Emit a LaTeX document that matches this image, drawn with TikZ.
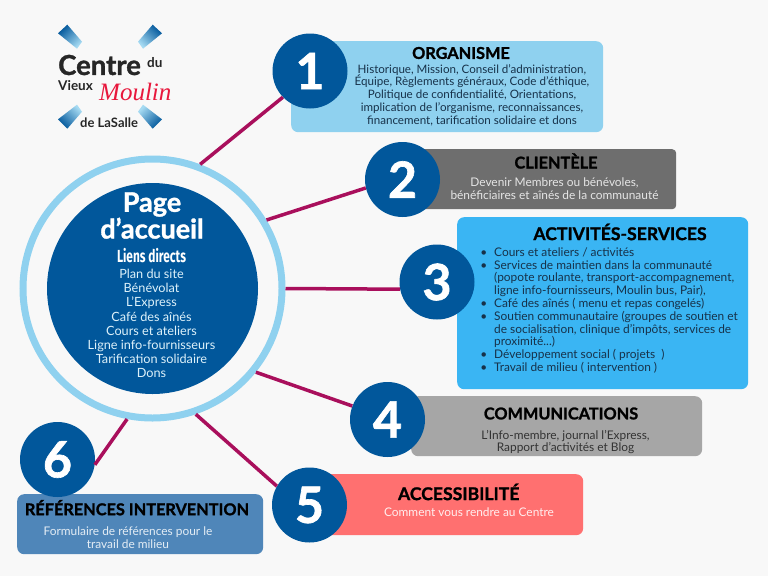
\documentclass[tikz,border=0pt]{standalone}
\usepackage{fontspec}
\setmainfont{Lato}
\newfontfamily\grasfont[BoldFeatures={FakeBold=1.3}]{Lato}
\newfontfamily\condfont[FakeStretch=0.68]{Fira Sans}
\newfontfamily\moulinfont{Liberation Serif}
\usetikzlibrary{positioning}
\definecolor{fond}{HTML}{F8F8F8}
\definecolor{bleufonce}{HTML}{01579B}
\definecolor{bleuciel}{HTML}{8FD1EF}
\definecolor{bleuvif}{HTML}{3AB5F3}
\definecolor{bleugris}{HTML}{4F86B9}
\definecolor{grisfonce}{HTML}{6E6E6E}
\definecolor{grisclair}{HTML}{A6A6A6}
\definecolor{corail}{HTML}{FF7070}
\definecolor{cramoisi}{HTML}{A90F5C}
\definecolor{encre}{HTML}{17324A}
\definecolor{rouge}{HTML}{E8173C}
\tikzstyle{box} = [rectangle, rounded corners=7pt, inner sep=0pt, anchor=north west]
\tikzstyle{numero} = [circle, fill=bleufonce, minimum size=75pt, inner sep=0pt, text=white, font=\fontsize{50}{50}\selectfont\grasfont\bfseries]
\tikzstyle{titre} = [inner sep=0pt, text=black, font=\fontsize{16.3}{18}\selectfont\grasfont\bfseries]
\tikzstyle{grandtitre} = [titre, font=\fontsize{17.6}{18}\selectfont\grasfont\bfseries]
\tikzstyle{corps} = [inner sep=0pt, align=center, font=\fontsize{11.9}{12.8}\selectfont]
\tikzstyle{logo} = [inner sep=0pt, anchor=west, text=black!85]
\tikzstyle{lien} = [draw=cramoisi, line width=3.5pt]
\tikzstyle{croix} = [draw=none]
\newcommand{\puce}{\llap{\textbullet\hspace{7pt}}}
\begin{document}
\begin{tikzpicture}[x=1pt,y=-1pt]
	\useasboundingbox (0,0) rectangle (768,576);
	\fill[fond] (0,0) rectangle (768,576);
	\shade[croix, top color=bleufonce, bottom color=bleuciel!80, shading angle=45] (58,33.3) -- (67.3,24.7) -- (82,41.7) -- (77,48.7) -- cycle;
	\shade[croix, top color=bleufonce, bottom color=bleuciel!80, shading angle=-45] (162,33.3) -- (152.7,24.7) -- (138,41.7) -- (143,48.7) -- cycle;
	\shade[croix, bottom color=bleufonce, top color=bleuciel!80, shading angle=-45] (58,119.3) -- (67.3,128.7) -- (82,111.7) -- (77,104.7) -- cycle;
	\shade[croix, bottom color=bleufonce, top color=bleuciel!80, shading angle=45] (162,119.3) -- (152.7,128.7) -- (138,111.7) -- (143,104.7) -- cycle;
	\node[logo, font=\fontsize{27.5}{26}\selectfont\grasfont\bfseries] (centre) at (58,65) {Centre};
	\node[logo, font=\fontsize{13.5}{14}\selectfont\bfseries] (du) at (147,63) {du};
	\node[logo, font=\fontsize{13.5}{14}\selectfont\bfseries] (vieux) at (58,85.5) {Vieux};
	\node[logo, text=rouge, font=\fontsize{25}{25}\selectfont\moulinfont\itshape] (moulin) at (99,91.5) {Moulin};
	\node[logo, font=\fontsize{13}{14}\selectfont\bfseries] (lasalle) at (80,122.5) {de LaSalle};
	\node[box, fill=bleuciel, minimum width=312pt, minimum height=91pt] (box1) at (291,41) {};
	\node[box, fill=grisfonce, rounded corners=4pt, minimum width=276pt, minimum height=60pt] (box2) at (400,149) {};
	\node[box, fill=bleuvif, minimum width=291pt, minimum height=172pt] (box3) at (457,217) {};
	\node[box, fill=grisclair, minimum width=291pt, minimum height=60pt] (box4) at (411,396) {};
	\node[box, fill=corail, minimum width=263pt, minimum height=61pt] (box5) at (320,474) {};
	\node[box, fill=bleugris, minimum width=246pt, minimum height=60pt] (box6) at (17,494) {};
	\node[circle, draw=bleuciel, fill=fond, line width=7pt, minimum size=259pt, inner sep=0pt] (accueil) at (152.5,288.5) {};
	\node[circle, fill=bleufonce, minimum size=211pt, inner sep=0pt] (disque) at (152.5,288.5) {};
	\node[numero] (num1) at (310,71) {1};
	\node[numero] (num2) at (402.5,179.5) {2};
	\node[numero] (num3) at (437,282) {3};
	\node[numero] (num4) at (387.5,419.5) {4};
	\node[numero] (num5) at (309.5,505) {5};
	\node[numero] (num6) at (57.5,459.5) {6};
	\draw[lien] (accueil.69) -- (num1.224);
	\draw[lien] (accueil.31) -- (num2.193);
	\draw[lien] (accueil.0) -- (num3.191);
	\draw[lien] (accueil.-39) -- (num4.159);
	\draw[lien] (accueil.-71) -- (num5.150);
	\draw[lien] (accueil.-101) -- (num6.-8);
	\node[inner sep=0pt, align=center, text=white, font=\fontsize{27}{23.5}\selectfont\grasfont\bfseries] (page) at (152,215.5) {Page\\d’accueil};
	\node[inner sep=0pt, text=white, font=\fontsize{17.5}{16}\selectfont\condfont\bfseries] (liens) at (151.5,256) {Liens directs};
	\node[corps, below=5.5pt of liens, text=bleuciel!30!white, font=\fontsize{12.7}{14.2}\selectfont] (liste) {Plan du site\\Bénévolat\\L’Express\\Café des aînés\\Cours et ateliers\\Ligne info-fournisseurs\\Tarification solidaire\\Dons};
	\node[titre] (titre1) at (461,53) {ORGANISME};
	\node[corps, text=encre, font=\fontsize{11.6}{12.8}\selectfont] (corps1) at (472,95) {Historique, Mission, Conseil d’administration,\\Équipe, Règlements généraux, Code d’éthique,\\Politique de confidentialité, Orientations,\\implication de l’organisme, reconnaissances,\\financement, tarification solidaire et dons};
	\node[titre] (titre2) at (556,161) {CLIENTÈLE};
	\node[corps, text=white!90!black] (corps2) at (554.5,189) {Devenir Membres ou bénévoles,\\bénéficiaires et aînés de la communauté};
	\node[grandtitre] (titre3) at (620,232) {ACTIVITÉS-SERVICES};
	\node[corps, text=encre, align=left, anchor=north west] (corps3) at (494,247.3) {\puce Cours et ateliers / activités\\\puce Services de maintien dans la communauté\\(popote roulante, transport-accompagnement,\\ligne info-fournisseurs, Moulin bus, Pair),\\\puce Café des aînés ( menu et repas congelés)\\\puce Soutien communautaire (groupes de soutien et\\de socialisation, clinique d'impôts, services de\\proximité...)\\\puce Développement social ( projets~ )\\\puce Travail de milieu ( intervention )};
	\node[titre] (titre4) at (561,413.5) {COMMUNICATIONS};
	\node[corps, text=black!80] (corps4) at (565.5,442) {L’Info-membre, journal l’Express,\\Rapport d’activités et Blog};
	\node[grandtitre] (titre5) at (458.7,492) {ACCESSIBILITÉ};
	\node[corps, text=white!88!corail] (corps5) at (469,512) {Comment vous rendre au Centre};
	\node[titre] (titre6) at (137,507.7) {RÉFÉRENCES INTERVENTION};
	\node[corps, text=white!85!bleugris] (corps6) at (128,537.3) {Formulaire de références pour le\\travail de milieu};
\end{tikzpicture}
\end{document}
